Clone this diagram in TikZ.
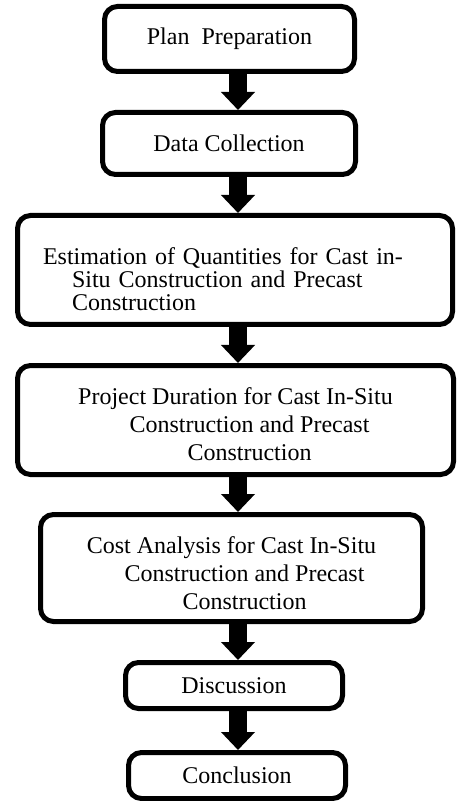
\documentclass[tikz,border=0pt]{standalone}
\usepackage{fontspec}
\setmainfont{Liberation Serif}
\usetikzlibrary{arrows.meta}
\usetikzlibrary{positioning}

\begin{document}
\begin{tikzpicture}[x=0.5pt,y=-0.5pt,>={Triangle[width=16.5pt,length=9pt]},
    stage/.style={draw=black,line width=2.5pt,rounded corners=6.5pt,fill=white,inner sep=0pt,
        font=\fontsize{12}{14}\selectfont,align=center},
    flow/.style={->,line width=9pt}]
    \useasboundingbox (0,0) rectangle (456,801);

        % Steps of the study
        \node[stage,minimum width=125pt,minimum height=32.5pt] (B1) at (229.5,39) {Plan~~Preparation};
        \node[stage,minimum width=126.5pt,minimum height=31pt] (B2) at (229,143.5) {Data Collection};
        \node[stage,minimum width=217.5pt,minimum height=54.5pt,inner xsep=12.75pt,text width=192pt,align=left,
            font=\fontsize{12}{11.5}\selectfont] (B3) at (235,270)
            {\rule{0pt}{17.5pt}Estimation of Quantities for Cast in-\\\hspace*{14.5pt}Situ Construction and Precast\\\hspace*{14.5pt}Construction};
        \node[stage,minimum width=218pt,minimum height=54.5pt] (B4) at (235.5,420)
            {\rule{0pt}{13pt}Project Duration for Cast In-Situ\\\hspace*{14pt}Construction and Precast\\\hspace*{14pt}Construction};
        \node[stage,minimum width=191pt,minimum height=53.5pt] (B5) at (231.5,568)
            {\rule{0pt}{14pt}Cost Analysis for Cast In-Situ\\\hspace*{13pt}Construction and Precast\\\hspace*{13pt}Construction};
        \node[stage,minimum width=108.5pt,minimum height=23pt] (B6) at (234,685.5) {Discussion};
        \node[stage,minimum width=108.5pt,minimum height=23pt] (B7) at (237,775.5) {Conclusion};

        % Block arrows between the steps
        \coordinate (ax) at (238,0);
        \path (B1.south -| ax) edge[flow] (B2.north -| ax);
        \path (B2.south -| ax) edge[flow] (B3.north -| ax);
        \path (B3.south -| ax) edge[flow] (B4.north -| ax);
        \path (B4.south -| ax) edge[flow] (B5.north -| ax);
        \path (B5.south -| ax) edge[flow] (B6.north -| ax);
        \path (B6.south -| ax) edge[flow] (B7.north -| ax);

    \end{tikzpicture}
\end{document}
